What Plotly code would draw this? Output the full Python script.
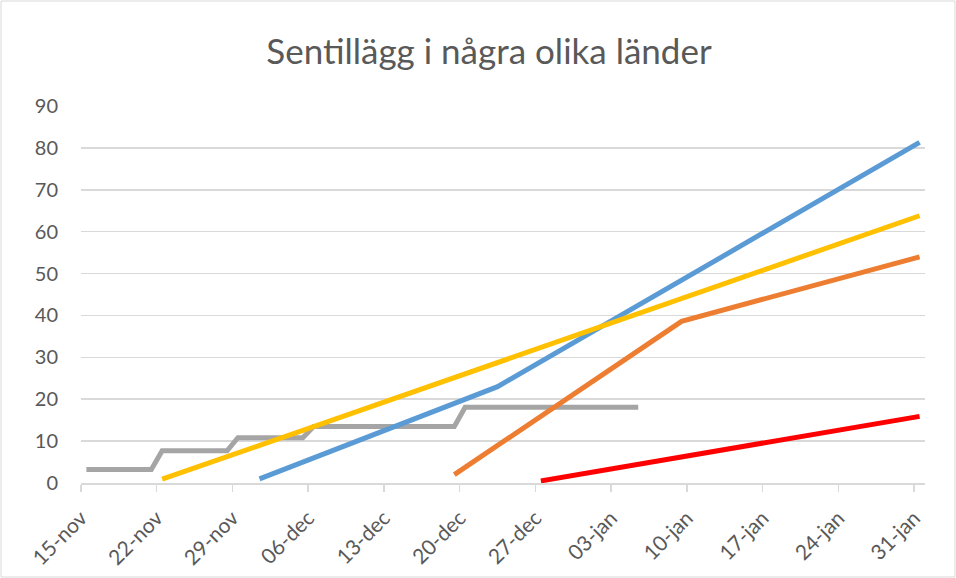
import plotly.graph_objects as go
import pandas as pd

# ---- data (points sit at the middle of each day) ----
blue_dates = ["2020-12-01", "2020-12-23", "2021-01-31"]
blue_vals = [1, 23, 81.3]

orange_dates = ["2020-12-19", "2021-01-09", "2021-01-31"]
orange_vals = [2, 38.6, 54]

gray_dates = ["2020-11-15", "2020-11-21", "2020-11-22", "2020-11-28", "2020-11-29",
              "2020-12-05", "2020-12-06", "2020-12-19", "2020-12-20", "2021-01-05"]
gray_vals = [3.2, 3.2, 7.7, 7.7, 10.8, 10.8, 13.5, 13.5, 18.1, 18.1]

yellow_dates = ["2020-11-22", "2021-01-31"]
yellow_vals = [0.9, 63.8]

red_dates = ["2020-12-27", "2021-01-31"]
red_vals = [0.5, 15.9]

tick_dates = ["2020-11-15", "2020-11-22", "2020-11-29", "2020-12-06", "2020-12-13",
              "2020-12-20", "2020-12-27", "2021-01-03", "2021-01-10", "2021-01-17",
              "2021-01-24", "2021-01-31"]
tick_labels = ["15-nov", "22-nov", "29-nov", "06-dec", "13-dec", "20-dec",
               "27-dec", "03-jan", "10-jan", "17-jan", "24-jan", "31-jan"]
y_ticks = [0, 10, 20, 30, 40, 50, 60, 70, 80, 90]

title_text = "Sentillägg i några olika länder"


def mid_day(dates):
    # Excel date axis "between tick marks": points centred in the day slot
    return pd.to_datetime(dates) + pd.Timedelta(hours=12)


series = [
    (gray_dates, gray_vals, "#A5A5A5"),
    (blue_dates, blue_vals, "#5B9BD5"),
    (orange_dates, orange_vals, "#ED7D31"),
    (yellow_dates, yellow_vals, "#FFC000"),
    (red_dates, red_vals, "#FF0000"),
]

fig = go.Figure()
for d, v, c in series:
    fig.add_trace(go.Scatter(
        x=mid_day(d), y=v, mode="lines",
        line=dict(color=c, width=5),
        showlegend=False, hoverinfo="skip",
    ))

font_fam = "Lato, 'Open Sans', sans-serif"
txt_col = "#595959"

W, H = 956, 578
ML, MR, MT, MB = 81, 31, 106, 95
PW, PH = W - ML - MR, H - MT - MB

fig.update_layout(
    width=W, height=H, autosize=False,
    paper_bgcolor="white", plot_bgcolor="white",
    margin=dict(l=ML, r=MR, t=MT, b=MB),
    title=dict(text=title_text, x=489 / W, xref="container", xanchor="center",
               y=1 - 52 / H, yref="container", yanchor="middle",
               automargin=False,
               font=dict(family=font_fam, size=35, color=txt_col)),
    font=dict(family=font_fam, color=txt_col),
    xaxis=dict(
        type="date",
        range=[pd.Timestamp("2020-11-15"), pd.Timestamp("2021-02-01")],
        tickmode="array",
        tickvals=pd.to_datetime(tick_dates),
        ticktext=tick_labels,
        tickangle=-45,
        tickfont=dict(size=21, color=txt_col),
        showgrid=False,
        showline=True, linecolor="#D9D9D9", linewidth=1.5,
        ticks="outside", ticklen=7, tickcolor="#D9D9D9", tickwidth=1.5,
        ticklabelstandoff=6,
        zeroline=False, automargin=False,
    ),
    yaxis=dict(
        range=[0, 90],
        tickmode="array", tickvals=y_ticks,
        tickfont=dict(size=20, color=txt_col),
        showgrid=True, gridcolor="#D9D9D9", gridwidth=1.5,
        showline=False, zeroline=False,
        ticks="", ticklabelstandoff=22, automargin=False,
    ),
    shapes=[dict(type="rect", xref="paper", yref="paper",
                 x0=(-ML + 1) / PW, x1=1 + (MR - 1) / PW,
                 y0=(-MB + 1) / PH, y1=1 + (MT - 1) / PH,
                 line=dict(color="#D9D9D9", width=1), fillcolor="rgba(0,0,0,0)",
                 layer="below")],
)

fig.write_html("out.html",
               config={"displayModeBar": False, "staticPlot": True},
               post_script="document.body.style.margin='0';document.body.style.padding='0';")
